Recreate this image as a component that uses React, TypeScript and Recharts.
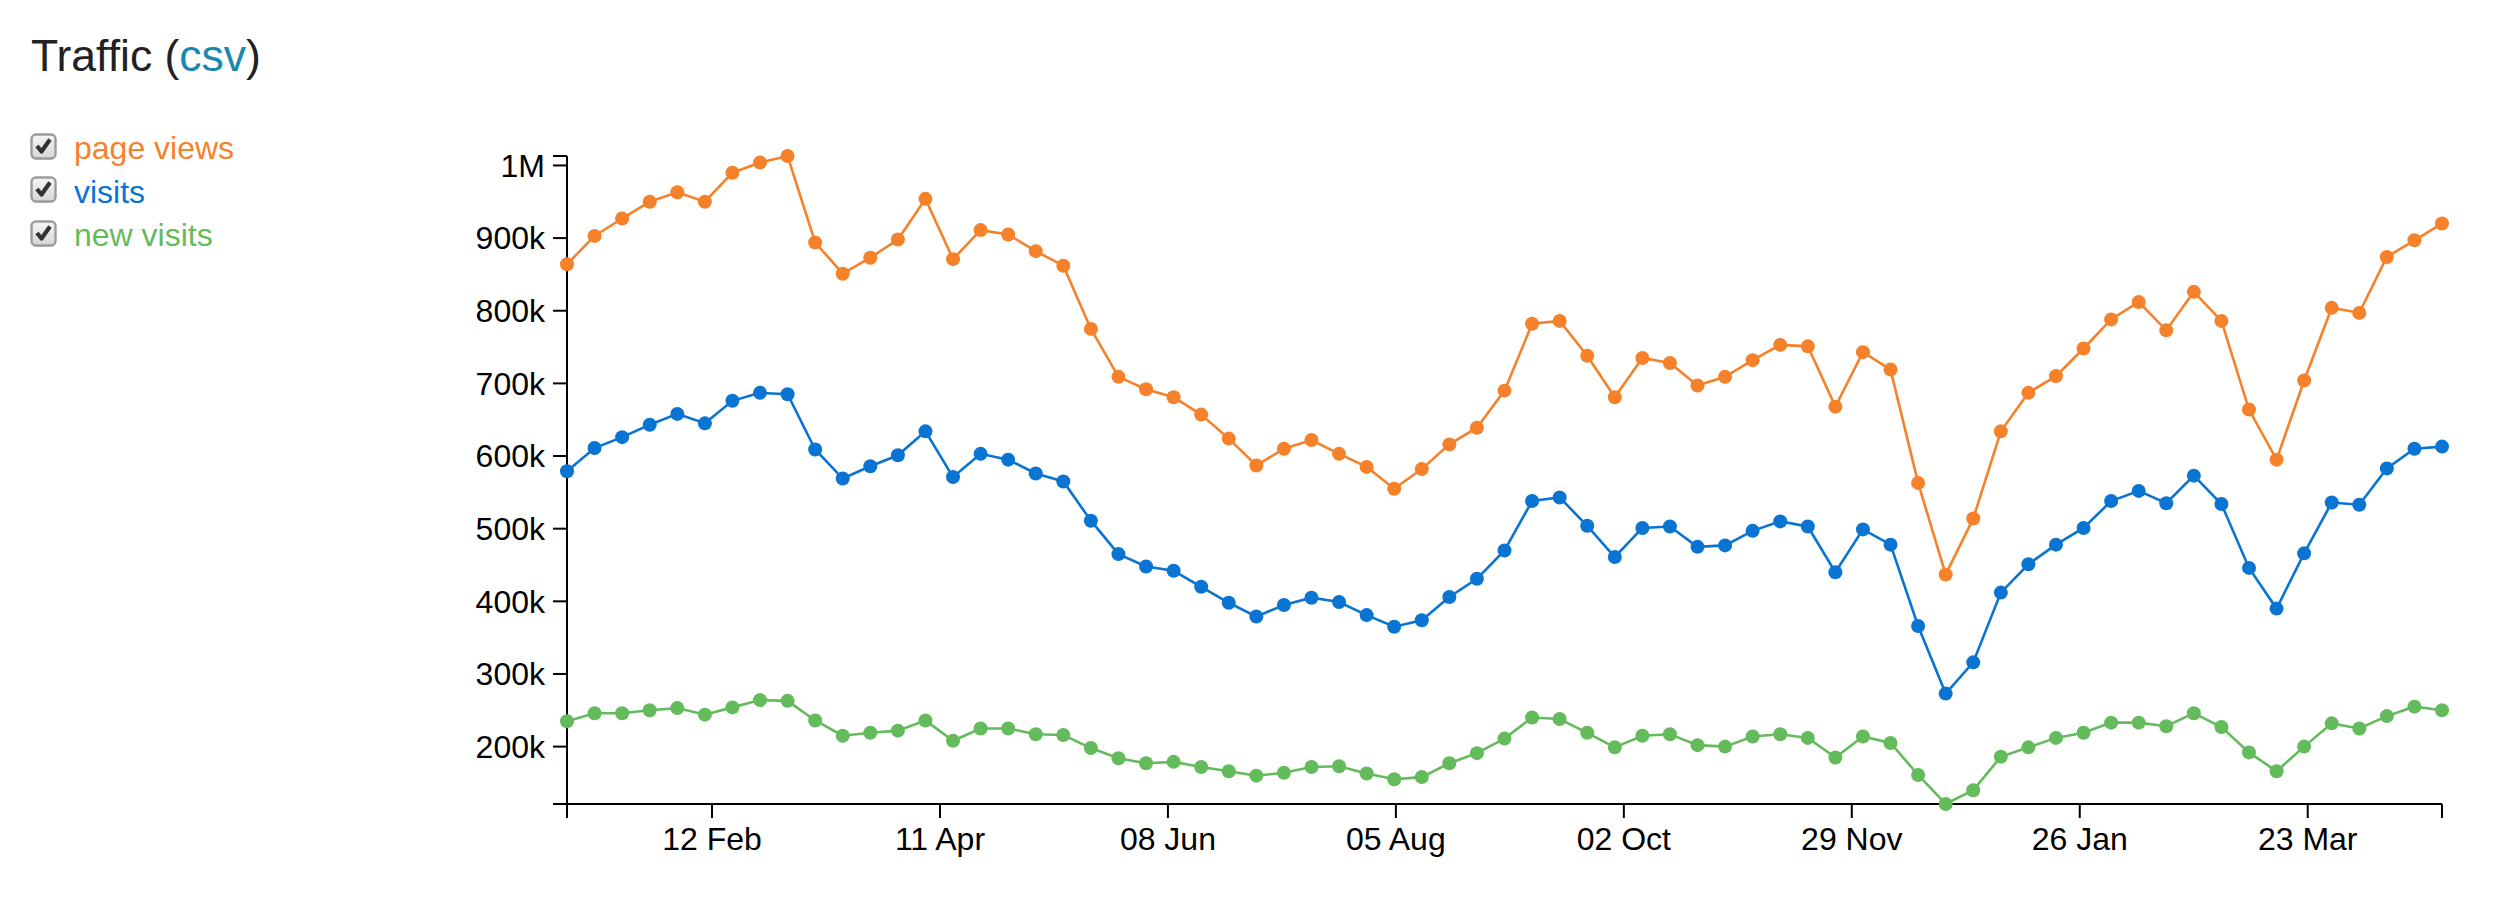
import { Line, LineChart, XAxis, YAxis } from "recharts";

// weekly samples (Mondays)
const weeks = [
	"2019-01-07", "2019-01-14", "2019-01-21", "2019-01-28", "2019-02-04", "2019-02-11", "2019-02-18", "2019-02-25",
	"2019-03-04", "2019-03-11", "2019-03-18", "2019-03-25", "2019-04-01", "2019-04-08", "2019-04-15", "2019-04-22",
	"2019-04-29", "2019-05-06", "2019-05-13", "2019-05-20", "2019-05-27", "2019-06-03", "2019-06-10", "2019-06-17",
	"2019-06-24", "2019-07-01", "2019-07-08", "2019-07-15", "2019-07-22", "2019-07-29", "2019-08-05", "2019-08-12",
	"2019-08-19", "2019-08-26", "2019-09-02", "2019-09-09", "2019-09-16", "2019-09-23", "2019-09-30", "2019-10-07",
	"2019-10-14", "2019-10-21", "2019-10-28", "2019-11-04", "2019-11-11", "2019-11-18", "2019-11-25", "2019-12-02",
	"2019-12-09", "2019-12-16", "2019-12-23", "2019-12-30", "2020-01-06", "2020-01-13", "2020-01-20", "2020-01-27",
	"2020-02-03", "2020-02-10", "2020-02-17", "2020-02-24", "2020-03-02", "2020-03-09", "2020-03-16", "2020-03-23",
	"2020-03-30", "2020-04-06", "2020-04-13", "2020-04-20", "2020-04-27",
];

// values in thousands
const pageViews = [
	864, 903, 927, 950, 963, 950, 990, 1004, 1013, 894, 851, 873, 898, 954, 871, 911, 905, 882, 862, 775, 709, 692, 681,
	657, 624, 587, 610, 622, 603, 585, 555, 582, 616, 639, 690, 782, 786, 738, 681, 735, 728, 697, 709, 732, 753, 751,
	668, 743, 719, 563, 437, 514, 634, 687, 710, 748, 788, 812, 773, 826, 786, 664, 595, 704, 804, 797, 874, 897, 920,
];
const visits = [
	579, 611, 626, 643, 658, 645, 676, 687, 685, 609, 569, 586, 601, 634, 571, 603, 595, 576, 565, 511, 465, 448, 442,
	420, 398, 379, 395, 405, 399, 381, 365, 374, 406, 431, 470, 538, 543, 504, 461, 501, 503, 475, 477, 497, 510, 503,
	440, 499, 478, 366, 273, 316, 412, 451, 478, 501, 538, 552, 535, 573, 534, 446, 390, 466, 536, 533, 583, 610, 613,
];
const newVisits = [
	235, 246, 246, 250, 253, 244, 254, 264, 263, 236, 215, 219, 222, 236, 208, 225, 225, 217, 216, 198, 184, 177, 179,
	172, 166, 160, 164, 172, 173, 163, 155, 158, 177, 191, 211, 240, 238, 219, 199, 215, 217, 202, 200, 214, 217, 212,
	185, 214, 205, 161, 121, 140, 186, 199, 212, 219, 233, 233, 228, 246, 227, 192, 166, 200, 232, 225, 242, 255, 250,
];

const xTickValues = [1550000000000, 1555000000000, 1560000000000, 1565000000000, 1570000000000, 1575000000000, 1580000000000, 1585000000000];
const xTickLabels = ["12 Feb", "11 Apr", "08 Jun", "05 Aug", "02 Oct", "29 Nov", "26 Jan", "23 Mar"];
const yTickValues = [200, 300, 400, 500, 600, 700, 800, 900, 1000];

const series = [
	{ key: "pageViews", label: "page views", color: "#f5822a" },
	{ key: "visits", label: "visits", color: "#0a74d2" },
	{ key: "newVisits", label: "new visits", color: "#63bb5c" },
];

const data = weeks.map((w, i) => ({
	t: Date.parse(w + "T00:00:00Z"),
	pageViews: pageViews[i],
	visits: visits[i],
	newVisits: newVisits[i],
}));

const xMin = data[0].t;
const xMax = data[data.length - 1].t;
const yMin = Math.min(...newVisits);
const yMax = Math.max(...pageViews);

const fmtX = (v: number) => {
	const idx = xTickValues.indexOf(v);
	return idx >= 0 ? xTickLabels[idx] : "";
};
const fmtY = (v: number) => {
	if (!yTickValues.includes(v)) return "";
	return v >= 1000 ? v / 1000 + "M" : v + "k";
};

const CheckBox = () => (
	<svg width={27} height={29} style={{ display: "block" }}>
		<defs>
			<linearGradient id="cbg" x1="0" y1="0" x2="0" y2="1">
				<stop offset="0" stopColor="#f6f6f6" />
				<stop offset="1" stopColor="#d6d6d6" />
			</linearGradient>
		</defs>
		<rect x={1.5} y={3} width={24} height={24} rx={4.5} fill="#e6e6e6" />
		<rect x={1.5} y={1.5} width={24} height={24} rx={4.5} fill="url(#cbg)" stroke="#9c9c9c" strokeWidth={2.4} />
		<path d="M7 13 L11.5 18.5 L20 6.5" stroke="#333" strokeWidth={4.2} fill="none" strokeLinejoin="round" />
	</svg>
);

const App = () => {
	const axisStroke = { stroke: "#000", strokeWidth: 2 };
	return (
		<div style={{ position: "absolute", left: 0, top: 0, width: 2518, height: 913, fontFamily: "Liberation Sans, Arial, sans-serif", background: "#fff" }}>
			<div style={{ position: "absolute", left: 31, top: 34, fontSize: 44.5, lineHeight: "44px", color: "#222", whiteSpace: "nowrap" }}>
				Traffic (<span style={{ color: "#1a87b0" }}>csv</span>)
			</div>
			{series.map((s, i) => (
				<div key={s.key}>
					<div style={{ position: "absolute", left: 30, top: 132.5 + i * 43.5 }}>
						<CheckBox />
					</div>
					<div style={{ position: "absolute", left: 74, top: 132 + i * 43.6, fontSize: 32, lineHeight: "32px", color: s.color, whiteSpace: "nowrap" }}>
						{s.label}
					</div>
				</div>
			))}
			<div style={{ position: "absolute", left: 0, top: 0 }}>
				<LineChart width={2518} height={913} data={data} margin={{ top: 156, right: 76, bottom: 49, left: 0 }}>
					<XAxis
						dataKey="t"
						type="number"
						domain={[xMin, xMax]}
						ticks={[xMin, ...xTickValues, xMax]}
						tickFormatter={fmtX}
						interval={0}
						height={60}
						tickSize={14}
						tickMargin={9}
						axisLine={axisStroke}
						tickLine={axisStroke}
						tick={{ fill: "#000", fontSize: 32 }}
					/>
					<YAxis
						type="number"
						domain={[yMin, yMax]}
						ticks={[yMin, ...yTickValues, yMax]}
						tickFormatter={fmtY}
						interval={0}
						width={567}
						tickSize={14}
						tickMargin={8}
						axisLine={axisStroke}
						tickLine={axisStroke}
						tick={{ fill: "#000", fontSize: 32 }}
					/>
					{series.map((s) => (
						<Line
							key={s.key}
							type="linear"
							dataKey={s.key}
							stroke={s.color}
							strokeWidth={2.6}
							dot={{ r: 7, fill: s.color, stroke: s.color, strokeWidth: 0 }}
							activeDot={false}
							isAnimationActive={false}
						/>
					))}
				</LineChart>
			</div>
		</div>
	);
};

export default App;
